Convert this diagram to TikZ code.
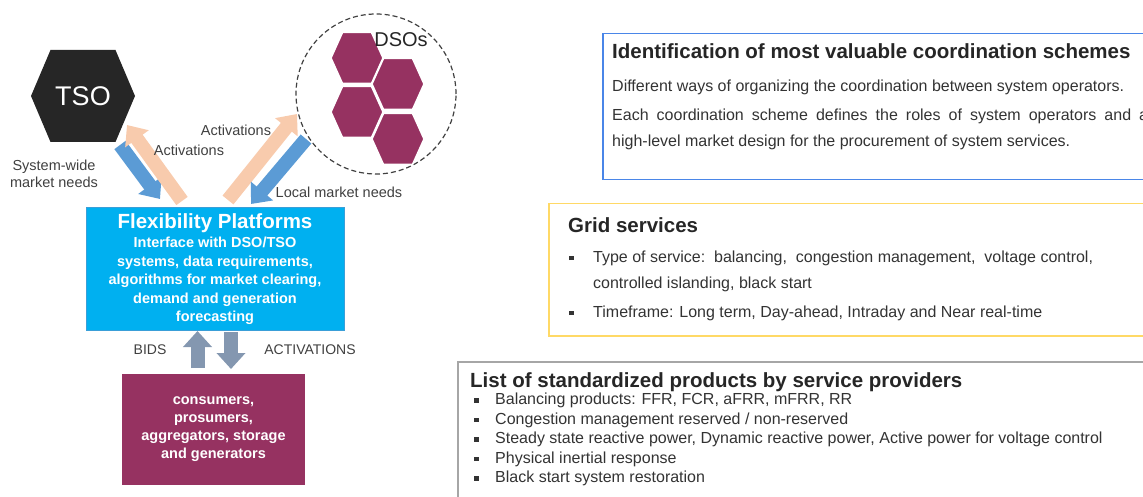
\documentclass[tikz,border=0pt]{standalone}
\usepackage{fontspec}
\setmainfont{Liberation Sans}
\usetikzlibrary{calc,arrows.meta}

\definecolor{tsogray}{HTML}{262626}
\definecolor{dsopurple}{HTML}{963261}
\definecolor{ringgray}{HTML}{404040}
\definecolor{fpblue}{HTML}{00B0F0}
\definecolor{fpedge}{HTML}{3A9FD8}
\definecolor{needblue}{HTML}{5B9BD5}
\definecolor{actpeach}{HTML}{F8CBAD}
\definecolor{bidgray}{HTML}{8497B0}
\definecolor{schemeblue}{HTML}{4A86E8}
\definecolor{gridgold}{HTML}{FFD966}
\definecolor{listgray}{HTML}{A6A6A6}
\definecolor{textgray}{HTML}{333333}

\newcommand{\sqbul}[1]{\makebox[#1][l]{\rule[2pt]{4.5pt}{4.5pt}}}

\begin{document}
\begin{tikzpicture}[
		x=1pt,y=-1pt,
		pics/hexa/.style n args={4}{code={
			\path[#4] (-#1,0) -- (-#1+#3,#2) -- (#1-#3,#2) -- (#1,0) -- (#1-#3,-#2) -- (-#1+#3,-#2) -- cycle;
		}},
		tsohex/.style={fill=tsogray},
		dsohex/.style={fill=dsopurple,draw=white,line width=1.5pt},
		dsoring/.style={circle,draw=ringgray,dash pattern=on 5pt off 3pt,line width=1.2pt,minimum size=160pt},
		%
		sidelabel/.style={inner sep=0,text=ringgray,font=\fontsize{14.5}{17}\selectfont,align=center},
		needs/.style={draw=needblue,line width=14pt,-{Triangle[width=28pt,length=17pt]}},
		acts/.style={draw=actpeach,line width=14pt,-{Triangle[width=28pt,length=17pt]}},
		bidarrow/.style={draw=bidgray,line width=14pt,-{Triangle[width=28pt,length=16pt]}},
		%
		fpbox/.style={draw=fpedge,fill=fpblue,line width=1pt,inner sep=0,minimum width=258pt,minimum height=122pt},
		fptitle/.style={inner sep=0,text=white,font=\fontsize{20.5}{23}\selectfont\bfseries},
		fpbody/.style={inner sep=0,text=white,align=center,font=\fontsize{14.5}{18.5}\selectfont\bfseries},
		actorbox/.style={fill=dsopurple,text=white,align=center,inner sep=0,minimum width=183pt,minimum height=111pt,
			font=\fontsize{14.5}{18}\selectfont\bfseries},
		%
		infobox/.style={anchor=north west,line width=1.5pt,inner sep=0},
		headtext/.style={anchor=west,inner sep=0,text=black!85,font=\fontsize{20.5}{24}\selectfont\bfseries,
			text height=14.8pt,text depth=4.1pt},
		bodytext/.style={anchor=west,inner sep=0,text=textgray,font=\fontsize{16}{19}\selectfont,
			text height=11.5pt,text depth=3.2pt}
	]
	\clip (0,0) rectangle (1143,497);
	%
	% system operators
	\pic at (83,96) {hexa={52}{46}{19.5}{tsohex}};
	\node[inner sep=0,text=white,font=\fontsize{27}{30}\selectfont] (tso) at (83,96) {TSO};
	\node[dsoring] (dsos) at (376,94) {};
	\foreach \hx/\hy in {357/58,398/84,357/112,398/139}
		\pic at (\hx,\hy) {hexa={26}{25.5}{11.5}{dsohex}};
	\node[inner sep=0,text=tsogray,font=\fontsize{20}{24}\selectfont] (dsoname) at (401,40) {DSOs};
	%
	% flexibility platform
	\node[fpbox] (fp) at (215,269) {};
	\node[fptitle] (fpTitle) at (215,223) {Flexibility Platforms};
	\node[fpbody] (fpBody) at (215,281) {Interface with DSO/TSO\\ systems, data requirements,\\
		algorithms for market clearing,\\ demand and generation\\ forecasting};
	\node[actorbox] (actors) at (213.5,429.5) {consumers,\\ prosumers,\\ aggregators, storage\\ and generators};
	%
	% needs and activations
	\coordinate (tsoNeedTail) at (120,145);
	\coordinate (tsoNeedTip)  at (160,199);
	\coordinate (tsoActTail)  at (182,201);
	\coordinate (tsoActTip)   at (127,125);
	\coordinate (dsoActTail)  at (228,200);
	\coordinate (dsoActTip)   at (297,114);
	\coordinate (dsoNeedTail) at (306,139);
	\coordinate (dsoNeedTip)  at (251,204);
	\draw[needs] (tsoNeedTail) -- (tsoNeedTip);
	\draw[acts]  (tsoActTail) -- (tsoActTip);
	\draw[acts]  (dsoActTail) -- (dsoActTip);
	\draw[needs] (dsoNeedTail) -- (dsoNeedTip);
	\node[sidelabel] (tsoNeeds) at (54,174) {System-wide\\ market needs};
	\node[sidelabel] (tsoActs)  at (189,150) {Activations};
	\node[sidelabel] (dsoActs)  at (236,130) {Activations};
	\node[sidelabel] (dsoNeeds) at (339,192) {Local market needs};
	%
	% bids and activations
	\coordinate (bidsTail) at (197.5,368);
	\coordinate (bidsTip)  at (197.5,331);
	\coordinate (actsTail) at (231,332);
	\coordinate (actsTip)  at (231,369);
	\draw[bidarrow] (bidsTail) -- (bidsTip);
	\draw[bidarrow] (actsTail) -- (actsTip);
	\node[sidelabel,font=\fontsize{14}{17}\selectfont] (bidsLabel) at (150,350) {BIDS};
	\node[sidelabel,font=\fontsize{14}{17}\selectfont] (actsLabel) at (310,350) {ACTIVATIONS};
	%
	% coordination schemes
	\node[infobox,draw=schemeblue,minimum width=600pt,minimum height=146pt] (schemes) at (602,33) {};
	\node[headtext] (schemesTitle) at (612,53) {Identification of most valuable coordination schemes};
	\node[bodytext] (schemesA) at (612,87) {Different ways of organizing the coordination between system operators.};
	\node[bodytext] (schemesB) at (612,116) {\makebox[536pt][s]{Each coordination scheme defines the roles of system operators and a}};
	\node[bodytext] (schemesC) at (612,142) {high-level market design for the procurement of system services.};
	%
	% grid services
	\node[infobox,draw=gridgold,minimum width=620pt,minimum height=132pt] (grid) at (548,203) {};
	\node[headtext] (gridTitle) at (568,227) {Grid services};
	\node[bodytext] (gridA)  at (569,258) {\sqbul{24pt}Type of service:\ \ balancing,\ \ congestion management,\ \ voltage control,};
	\node[bodytext] (gridA2) at (593,284) {controlled islanding, black start};
	\node[bodytext] (gridB)  at (569,313) {\sqbul{24pt}Timeframe: Long term, Day-ahead, Intraday and Near real-time};
	%
	% standardized products
	\node[infobox,draw=listgray,minimum width=720pt,minimum height=200pt] (products) at (457,361) {};
	\node[headtext] (productsTitle) at (470,382) {List of standardized products by service providers};
	\foreach \txt [count=\i] in {{Balancing products: FFR, FCR, aFRR, mFRR, RR},
			{Congestion management reserved / non-reserved},
			{Steady state reactive power, Dynamic reactive power, Active power for voltage control},
			{Physical inertial response},
			{Black start system restoration}}
		\node[bodytext] (item\i) at (474,381+19.5*\i) {\sqbul{21pt}\txt};
\end{tikzpicture}
\end{document}
